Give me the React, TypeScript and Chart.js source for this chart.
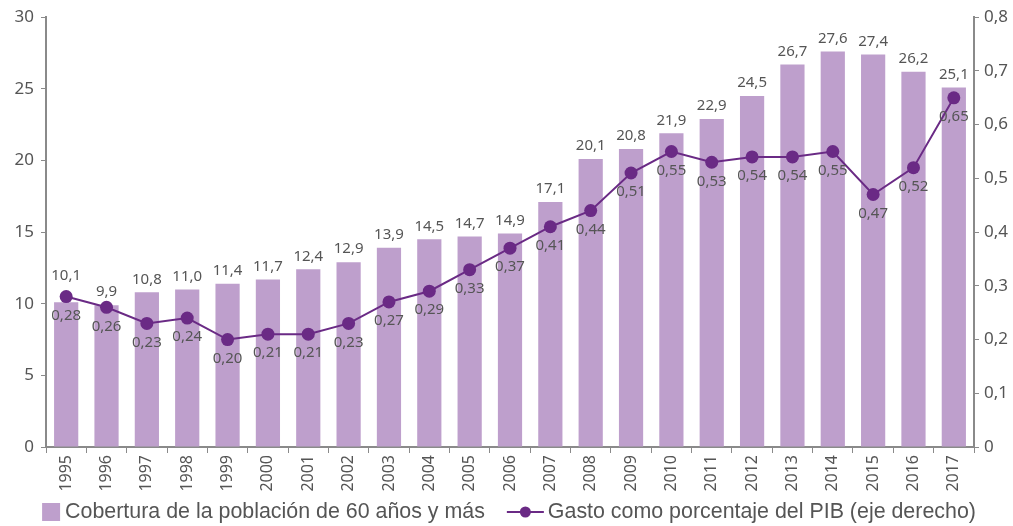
import React, { useEffect, useRef } from "react";
import { Chart, registerables } from "chart.js";

Chart.register(...registerables);

const years = ["1995","1996","1997","1998","1999","2000","2001","2002","2003","2004","2005","2006","2007","2008","2009","2010","2011","2012","2013","2014","2015","2016","2017"];
const coverage = [10.1, 9.9, 10.8, 11.0, 11.4, 11.7, 12.4, 12.9, 13.9, 14.5, 14.7, 14.9, 17.1, 20.1, 20.8, 21.9, 22.9, 24.5, 26.7, 27.6, 27.4, 26.2, 25.1];
const spending = [0.28, 0.26, 0.23, 0.24, 0.20, 0.21, 0.21, 0.23, 0.27, 0.29, 0.33, 0.37, 0.41, 0.44, 0.51, 0.55, 0.53, 0.54, 0.54, 0.55, 0.47, 0.52, 0.65];
const leftTicks = [0, 5, 10, 15, 20, 25, 30];
const rightTicks = [0, 0.1, 0.2, 0.3, 0.4, 0.5, 0.6, 0.7, 0.8];
const barLabel = "Cobertura de la población de 60 años y más";
const lineLabel = "Gasto como porcentaje del PIB (eje derecho)";

const BAR_COLOR = "#BE9FCC";
const LINE_COLOR = "#6A2A85";
const TEXT = "#555555";
const AXIS = "#8a8a8a";
const FONT = "'Noto Sans', sans-serif";
const LEGEND_FONT = "21.4px 'Liberation Sans', Arial, sans-serif";

const comma = (v: number, d: number) => v.toFixed(d).replace(".", ",");

const labelsPlugin = {
  id: "valueLabels",
  afterDatasetsDraw(chart: any) {
    const ctx = chart.ctx;
    ctx.save();
    ctx.fillStyle = TEXT;
    ctx.font = "15px " + FONT;
    ctx.textAlign = "center";
    ctx.textBaseline = "middle";
    const barMeta = chart.getDatasetMeta(0);
    const lineMeta = chart.getDatasetMeta(1);
    barMeta.data.forEach((el: any, i: number) => {
      let y = el.y - 13;
      const p = lineMeta.data[i];
      if (p && p.y - 7 < y + 8 && p.y + 7 > y - 8) {
        y = Math.min(y, p.y - 21);
      }
      ctx.fillText(comma(coverage[i], 1), el.x, y);
    });
    lineMeta.data.forEach((el: any, i: number) => {
      ctx.fillText(comma(spending[i], 2), el.x, el.y + 19);
    });
    ctx.restore();
  },
};

const legendPlugin = {
  id: "customLegend",
  afterDraw(chart: any) {
    const ctx = chart.ctx;
    ctx.save();
    ctx.font = LEGEND_FONT;
    ctx.fillStyle = TEXT;
    ctx.textBaseline = "middle";
    ctx.textAlign = "left";
    const w1 = ctx.measureText(barLabel).width;
    const w2 = ctx.measureText(lineLabel).width;
    const box = 18, gap1 = 5, between = 22, lineW = 37, gap2 = 4;
    const total = box + gap1 + w1 + between + lineW + gap2 + w2;
    const cy = 512;
    let x = 509 - total / 2;
    ctx.fillStyle = BAR_COLOR;
    ctx.fillRect(x, cy - box / 2, box, box);
    x += box + gap1;
    ctx.fillStyle = TEXT;
    ctx.fillText(barLabel, x, cy);
    x += w1 + between;
    ctx.strokeStyle = LINE_COLOR;
    ctx.lineWidth = 2;
    ctx.beginPath();
    ctx.moveTo(x, cy);
    ctx.lineTo(x + lineW, cy);
    ctx.stroke();
    ctx.fillStyle = LINE_COLOR;
    ctx.beginPath();
    ctx.arc(x + lineW / 2, cy, 5.5, 0, Math.PI * 2);
    ctx.fill();
    x += lineW + gap2;
    ctx.fillStyle = TEXT;
    ctx.fillText(lineLabel, x, cy);
    ctx.restore();
  },
};

export default function App() {
  const ref = useRef<HTMLCanvasElement>(null);
  useEffect(() => {
    const chart = new Chart(ref.current!, {
      type: "bar",
      data: {
        labels: years,
        datasets: [
          {
            type: "bar",
            label: barLabel,
            data: coverage,
            backgroundColor: BAR_COLOR,
            yAxisID: "y",
            barPercentage: 0.6,
            categoryPercentage: 1,
            order: 2,
          },
          {
            type: "line",
            label: lineLabel,
            data: spending,
            borderColor: LINE_COLOR,
            backgroundColor: LINE_COLOR,
            borderWidth: 2,
            pointRadius: 6.5,
            pointBackgroundColor: LINE_COLOR,
            pointBorderWidth: 0,
            yAxisID: "y1",
            order: 1,
          } as any,
        ],
      },
      options: {
        animation: false,
        responsive: false,
        maintainAspectRatio: false,
        layout: { padding: { top: 15, left: 0, right: 0, bottom: 34 } },
        plugins: {
          tooltip: { enabled: false },
          legend: { display: false },
        },
        scales: {
          x: {
            grid: { display: true, drawOnChartArea: false, drawTicks: true, tickLength: 6, color: AXIS, offset: true },
            border: { display: true, color: AXIS, width: 2 },
            ticks: { color: TEXT, font: { size: 16, family: FONT }, minRotation: 90, maxRotation: 90, autoSkip: false, padding: 2 },
            afterFit: (s: any) => { s.height = 45; },
          },
          y: {
            position: "left",
            min: 0,
            max: 30,
            afterBuildTicks: (s: any) => { s.ticks = leftTicks.map((v) => ({ value: v })); },
            grid: { display: true, drawOnChartArea: false, drawTicks: true, tickLength: 5, color: AXIS },
            border: { display: true, color: AXIS, width: 2 },
            ticks: { color: TEXT, font: { size: 17, family: FONT }, padding: 7, callback: (v: any) => String(v) },
            afterFit: (s: any) => { s.width = 46; },
          },
          y1: {
            position: "right",
            min: 0,
            max: 0.8,
            afterBuildTicks: (s: any) => { s.ticks = rightTicks.map((v) => ({ value: v })); },
            grid: { display: true, drawOnChartArea: false, drawTicks: true, tickLength: 5, color: AXIS },
            border: { display: true, color: AXIS, width: 2 },
            ticks: { color: TEXT, font: { size: 17, family: FONT }, padding: 5, callback: (v: any) => (v === 0 ? "0" : comma(Number(v), 1)) },
            afterFit: (s: any) => { s.width = 39; },
          },
        },
      },
      plugins: [labelsPlugin, legendPlugin],
    });
    return () => chart.destroy();
  }, []);
  return (
    <div style={{ position: "fixed", left: 0, top: 0, width: 1013, height: 526, background: "#fff" }}>
      <canvas ref={ref} width={1013} height={526} style={{ width: 1013, height: 526 }} />
    </div>
  );
}
